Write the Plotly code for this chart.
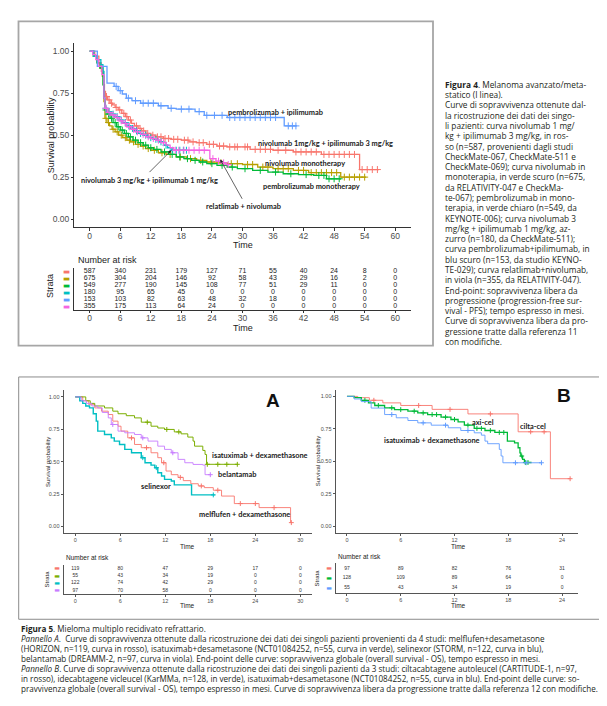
import plotly.graph_objects as go

W, H = 607, 706

# ---------------- Figure 4 data (PFS, months) ----------------
f4_colors = ["#F8766D", "#B79F00", "#00BA38", "#00BFC4", "#619CFF", "#F564E3"]

f4_red_t = [0, 1.0, 1.8, 2.3, 2.7, 2.9, 3.1, 3.5, 4.0, 4.5, 5.0, 5.6, 6.3, 7.0, 7.6, 8.2, 8.8, 9.5, 10.2, 11.0, 12.0, 13.0, 14.5, 16.0, 18.0, 19.5, 21.0, 23.0, 25.0, 27.0, 31.5, 36.0, 40.0, 45.5, 53.0, 56.8]
f4_red_s = [1.0, 0.97, 0.93, 0.88, 0.80, 0.76, 0.73, 0.71, 0.69, 0.68, 0.665, 0.65, 0.63, 0.61, 0.59, 0.57, 0.555, 0.54, 0.525, 0.51, 0.50, 0.49, 0.48, 0.475, 0.47, 0.46, 0.455, 0.445, 0.435, 0.43, 0.415, 0.41, 0.40, 0.385, 0.295, 0.295]
f4_red_c = [3.3, 3.8, 4.3, 5.2, 5.9, 6.7, 7.3, 8.0, 9.2, 9.9, 10.6, 11.4, 12.4, 13.3, 14.0, 14.8, 15.5, 16.5, 17.3, 18.6, 19.3, 20.3, 21.5, 22.3, 23.5, 24.3, 25.5, 26.3, 27.5, 28.5, 29.0, 30.5, 31.0, 32.5, 33.5, 34.5, 35.5, 37.0, 38.5, 40.5, 41.5, 42.5, 43.5, 44.5, 46.0, 47.0, 48.0, 49.0, 50.0, 51.0, 52.0, 53.5, 54.5, 55.5, 56.5]

f4_olive_t = [0, 0.8, 1.5, 2.0, 2.5, 2.8, 3.0, 3.4, 3.9, 4.4, 5.0, 5.7, 6.5, 7.3, 8.0, 9.0, 10.0, 11.0, 12.0, 13.5, 15.0, 17.0, 19.0, 21.0, 23.0, 25.0, 27.0, 30.0, 33.0, 36.0, 40.0, 43.0, 49.3, 54.3]
f4_olive_s = [1.0, 0.97, 0.93, 0.90, 0.85, 0.70, 0.60, 0.575, 0.555, 0.535, 0.52, 0.50, 0.485, 0.47, 0.46, 0.445, 0.435, 0.42, 0.41, 0.395, 0.385, 0.37, 0.36, 0.35, 0.34, 0.335, 0.33, 0.325, 0.31, 0.30, 0.29, 0.277, 0.25, 0.25]
f4_olive_c = [3.2, 3.7, 4.6, 5.4, 6.2, 7.0, 7.8, 8.6, 9.5, 10.5, 11.5, 12.7, 14.2, 15.8, 17.8, 19.8, 21.8, 23.8, 25.8, 27.8, 29.0, 31.0, 32.0, 34.0, 35.0, 37.0, 38.0, 39.0, 41.0, 42.0, 43.5, 44.5, 45.5, 46.5, 47.5, 48.5, 50.0, 51.0, 52.0, 53.0, 54.0]

f4_green_t = [0, 0.7, 1.4, 2.0, 2.6, 2.8, 3.0, 3.4, 4.0, 4.6, 5.3, 6.0, 6.8, 7.6, 8.5, 9.5, 10.5, 11.5, 12.5, 14.0, 15.5, 17.0, 18.5, 20.0, 21.5, 23.0, 25.0, 27.0, 29.0, 32.0, 35.0, 38.0, 41.0, 44.0, 46.5, 49.2]
f4_green_s = [1.0, 0.97, 0.93, 0.90, 0.80, 0.72, 0.65, 0.625, 0.60, 0.575, 0.55, 0.53, 0.51, 0.49, 0.47, 0.455, 0.44, 0.425, 0.415, 0.40, 0.385, 0.37, 0.36, 0.35, 0.34, 0.33, 0.32, 0.31, 0.30, 0.29, 0.28, 0.27, 0.265, 0.26, 0.24, 0.235]
f4_green_c = [3.2, 3.7, 4.3, 5.0, 5.6, 6.4, 7.2, 8.0, 9.0, 10.0, 11.0, 12.0, 13.2, 14.7, 16.2, 17.7, 19.2, 20.7, 22.2, 24.0, 26.0, 28.0, 30.5, 33.5, 36.5, 39.5, 42.5, 45.0, 46.0, 47.0, 48.0, 49.0]

f4_cyan_t = [0, 0.8, 1.5, 2.2, 2.6, 2.8, 3.0, 3.5, 4.2, 5.0, 5.8, 6.5, 7.3, 8.0, 8.8, 9.6, 10.5, 11.5, 12.5, 13.5, 14.5, 15.3, 16.0, 19.0]
f4_cyan_s = [1.0, 0.97, 0.95, 0.92, 0.88, 0.72, 0.66, 0.64, 0.625, 0.61, 0.59, 0.575, 0.555, 0.54, 0.525, 0.51, 0.50, 0.485, 0.475, 0.46, 0.44, 0.425, 0.41, 0.41]
f4_cyan_c = [3.2, 3.8, 4.6, 5.4, 6.2, 7.0, 7.7, 8.4, 9.2, 10.0, 11.0, 12.0, 13.0, 14.0, 15.0, 16.3, 17.0, 17.7, 18.4, 19.0]

f4_blue_t = [0, 1.5, 3.4, 4.8, 5.6, 6.4, 7.2, 8.3, 10.0, 13.5, 15.4, 17.0, 20.7, 22.5, 27.0, 38.2, 40.7]
f4_blue_s = [1.0, 0.91, 0.81, 0.79, 0.765, 0.745, 0.72, 0.705, 0.69, 0.675, 0.66, 0.655, 0.64, 0.618, 0.605, 0.555, 0.555]
f4_blue_c = [5.2, 6.0, 7.6, 9.0, 10.5, 11.5, 12.5, 14.0, 16.0, 18.0, 19.5, 21.5, 23.0, 24.5, 26.0, 27.5, 28.5, 29.5, 30.5, 31.5, 32.5, 33.5, 34.5, 35.5, 36.5, 39.0, 39.8, 40.5]

f4_pink_t = [0, 0.6, 1.2, 1.8, 2.4, 2.8, 3.0, 3.5, 4.2, 5.0, 5.8, 6.5, 7.3, 8.2, 9.0, 10.0, 11.0, 12.0, 13.0, 14.0, 15.0, 15.8, 16.5, 23.6, 24.8, 25.8, 26.8, 27.5]
f4_pink_s = [1.0, 0.98, 0.95, 0.91, 0.86, 0.72, 0.66, 0.635, 0.62, 0.605, 0.585, 0.57, 0.55, 0.535, 0.52, 0.505, 0.49, 0.48, 0.47, 0.455, 0.44, 0.425, 0.41, 0.36, 0.345, 0.335, 0.325, 0.325]
f4_pink_c = [3.2, 3.8, 4.6, 5.4, 6.2, 7.0, 7.8, 8.6, 9.4, 10.5, 11.5, 12.5, 13.5, 14.5, 16.8, 17.5, 18.5, 19.5, 20.5, 21.5, 22.5, 24.2, 25.3, 26.3, 27.2]

f4_risk_times = [0, 6, 12, 18, 24, 30, 36, 42, 48, 54, 60]
f4_risk_red = [587, 340, 231, 179, 127, 71, 55, 40, 24, 8, 0]
f4_risk_olive = [675, 304, 204, 146, 92, 58, 43, 29, 16, 2, 0]
f4_risk_green = [549, 277, 190, 145, 108, 77, 51, 29, 11, 0, 0]
f4_risk_cyan = [180, 95, 65, 45, 0, 0, 0, 0, 0, 0, 0]
f4_risk_blue = [153, 103, 82, 63, 48, 32, 18, 0, 0, 0, 0]
f4_risk_pink = [355, 175, 113, 64, 24, 0, 0, 0, 0, 0, 0]

# ---------------- Figure 5A data (OS, months) ----------------
a_colors = ["#F8766D", "#7CAE00", "#00BFC4", "#C77CFF"]
a_red_t = [0, 1.0, 1.8, 2.6, 3.5, 4.4, 5.0, 5.7, 6.1, 7.0, 7.9, 8.8, 10.1, 11.0, 11.5, 12.1, 12.8, 13.7, 14.4, 15.4, 16.4, 17.2, 18.4, 19.5, 21.2, 24.5, 28.7, 28.9]
a_red_s = [1.0, 0.97, 0.94, 0.915, 0.89, 0.864, 0.813, 0.774, 0.736, 0.684, 0.633, 0.608, 0.569, 0.531, 0.492, 0.428, 0.40, 0.379, 0.354, 0.33, 0.313, 0.30, 0.28, 0.235, 0.177, 0.146, 0.03, 0.03]
a_red_c = [7.5, 9.5, 11.8, 14.0, 16.8, 19.0, 22.0, 24.0, 26.5, 28.8]
a_green_t = [0, 1.4, 2.0, 2.6, 3.9, 5.0, 5.7, 6.8, 7.9, 8.8, 10.1, 11.0, 11.9, 13.2, 14.1, 15.0, 15.7, 15.9, 17.0, 17.3, 17.5, 21.7]
a_green_s = [1.0, 0.97, 0.95, 0.93, 0.915, 0.89, 0.87, 0.855, 0.838, 0.805, 0.774, 0.76, 0.749, 0.73, 0.715, 0.69, 0.659, 0.62, 0.587, 0.556, 0.48, 0.48]
a_green_c = [9.6, 12.2, 13.8, 17.6, 19.0, 20.2, 21.6]
a_cyan_t = [0, 0.6, 1.0, 1.4, 1.9, 2.4, 2.8, 3.0, 3.9, 4.8, 5.2, 5.9, 6.6, 7.5, 8.8, 9.3, 10.1, 10.6, 11.0, 11.5, 11.9, 12.8, 13.2, 15.5, 18.6]
a_cyan_s = [1.0, 0.97, 0.95, 0.93, 0.915, 0.87, 0.813, 0.736, 0.71, 0.684, 0.659, 0.633, 0.595, 0.569, 0.531, 0.492, 0.474, 0.454, 0.415, 0.39, 0.364, 0.351, 0.321, 0.244, 0.244]
a_cyan_c = [9.0, 10.8, 18.4]
a_purple_t = [0, 0.8, 1.5, 2.2, 3.0, 3.6, 4.4, 4.8, 5.7, 6.6, 7.9, 8.8, 9.7, 11.0, 11.9, 12.8, 13.7, 14.6, 15.7, 17.0, 17.3, 18.1]
a_purple_s = [1.0, 0.97, 0.95, 0.93, 0.915, 0.88, 0.838, 0.787, 0.736, 0.723, 0.71, 0.684, 0.659, 0.62, 0.595, 0.569, 0.518, 0.492, 0.479, 0.474, 0.40, 0.40]
a_purple_c = [5.0, 9.0, 13.0, 18.0]

a_risk_times = [0, 6, 12, 18, 24, 30]
a_risk_red = [119, 80, 47, 29, 17, 0]
a_risk_green = [55, 43, 34, 19, 0, 0]
a_risk_cyan = [122, 74, 42, 29, 0, 0]
a_risk_purple = [97, 70, 58, 0, 0, 0]

# ---------------- Figure 5B data (OS, months) ----------------
b_colors = ["#F8766D", "#00BA38", "#619CFF"]
b_red_t = [0, 1.2, 2.5, 4.0, 6.0, 9.5, 13.5, 19.1, 22.7, 24.9]
b_red_s = [1.0, 0.99, 0.97, 0.95, 0.93, 0.90, 0.865, 0.727, 0.365, 0.365]
b_red_c = [3.0, 8.0, 11.5, 16.0, 20.5, 22.0, 24.9]
b_green_t = [0, 0.8, 1.6, 2.4, 3.1, 4.2, 5.3, 6.8, 7.9, 9.0, 10.5, 11.6, 12.4, 13.1, 14.2, 15.4, 16.5, 17.9, 18.7, 19.1, 19.3, 19.4, 19.6, 19.8, 20.6]
b_green_s = [1.0, 0.99, 0.97, 0.95, 0.93, 0.912, 0.898, 0.886, 0.873, 0.86, 0.84, 0.822, 0.804, 0.778, 0.753, 0.737, 0.722, 0.655, 0.642, 0.604, 0.565, 0.54, 0.514, 0.49, 0.49]
b_green_c = [2.0, 3.5, 5.0, 6.0, 7.5, 8.5, 9.5, 10.0, 11.0, 12.0, 13.5, 14.5, 15.0, 16.0, 17.0, 17.5, 19.5, 19.9, 20.2]
b_blue_t = [0, 0.8, 1.6, 2.7, 4.2, 5.5, 6.8, 7.9, 9.4, 11.3, 12.7, 14.2, 15.0, 15.4, 15.7, 17.0, 17.2, 17.4, 21.7]
b_blue_s = [1.0, 0.98, 0.96, 0.91, 0.86, 0.835, 0.814, 0.796, 0.778, 0.758, 0.737, 0.719, 0.701, 0.655, 0.635, 0.591, 0.54, 0.488, 0.488]
b_blue_c = [5.0, 8.5, 11.0, 13.5, 18.8, 20.0, 21.7]

b_risk_times = [0, 6, 12, 18, 24]
b_risk_red = [97, 89, 82, 76, 31]
b_risk_green = [128, 109, 89, 64, 0]
b_risk_blue = [55, 43, 34, 19, 0]

# ---------------- Captions ----------------
f4_caption = [
    "<b>Figura 4</b>. Melanoma avanzato/meta-",
    "statico (I linea).",
    "Curve di sopravvivenza ottenute dal-",
    "la ricostruzione dei dati dei singo-",
    "li pazienti: curva nivolumab 1 mg/",
    "kg + ipilimumab 3 mg/kg, in ros-",
    "so (n=587, provenienti dagli studi",
    "CheckMate-067, CheckMate-511 e",
    "CheckMate-069); curva nivolumab in",
    "monoterapia, in verde scuro (n=675,",
    "da RELATIVITY-047 e CheckMa-",
    "te-067); pembrolizumab in mono-",
    "terapia, in verde chiaro (n=549, da",
    "KEYNOTE-006); curva nivolumab 3",
    "mg/kg + ipilimumab 1 mg/kg, az-",
    "zurro (n=180, da CheckMate-511);",
    "curva pembrolizumab+ipilimumab, in",
    "blu scuro (n=153, da studio KEYNO-",
    "TE-029); curva relatlimab+nivolumab,",
    "in viola (n=355, da RELATIVITY-047).",
    "End-point: sopravvivenza libera da",
    "progressione (progression-free sur-",
    "vival - PFS); tempo espresso in mesi.",
    "Curve di sopravvivenza libera da pro-",
    "gressione tratte dalla referenza 11",
    "con modifiche.",
]
f5_caption = [
    "<b>Figura 5</b>. Mieloma multiplo recidivato refrattario.",
    "<i>Pannello A</i>.  Curve di sopravvivenza ottenute dalla ricostruzione dei dati dei singoli pazienti provenienti da 4 studi: melflufen+desametasone",
    "(HORIZON, n=119, curva in rosso), isatuximab+desametasone (NCT01084252, n=55, curva in verde), selinexor (STORM, n=122, curva in blu),",
    "belantamab (DREAMM-2, n=97, curva in viola). End-point delle curve: sopravvivenza globale (overall survival - OS), tempo espresso in mesi.",
    "<i>Pannello B</i>. Curve di sopravvivenza ottenute dalla ricostruzione dei dati dei singoli pazienti da 3 studi: ciltacabtagene autoleucel (CARTITUDE-1, n=97,",
    "in rosso), idecabtagene vicleucel (KarMMa, n=128, in verde), isatuximab+desametasone (NCT01084252, n=55, curva in blu). End-point delle curve: so-",
    "pravvivenza globale (overall survival - OS), tempo espresso in mesi. Curve di sopravvivenza libera da progressione tratte dalla referenza 12 con modifiche.",
]


def fx(p):
    return p / W


def fy(p):
    return 1 - p / H


def step_at(ts, ss, t):
    val = ss[0]
    for ti, si in zip(ts, ss):
        if ti <= t:
            val = si
    return val


fig = go.Figure()


def add_km(ts, ss, cs, color, xa, ya, lw, msize):
    fig.add_trace(go.Scatter(x=ts, y=ss, mode="lines", line=dict(color=color, width=lw, shape="hv"),
                             xaxis=xa, yaxis=ya, showlegend=False, hoverinfo="skip"))
    fig.add_trace(go.Scatter(x=cs, y=[step_at(ts, ss, c) for c in cs], mode="markers",
                             marker=dict(symbol="cross-thin", size=msize, line=dict(color=color, width=1)),
                             xaxis=xa, yaxis=ya, showlegend=False, hoverinfo="skip"))


def add_risk(times, rows, xa, ya, size, color):
    for i, row in enumerate(rows):
        fig.add_trace(go.Scatter(x=times, y=[i] * len(times), mode="text", text=[str(v) for v in row],
                                 textfont=dict(size=size, color=color, family="Liberation Sans Narrow, Liberation Sans, Arial"),
                                 xaxis=xa, yaxis=ya, showlegend=False, hoverinfo="skip", cliponaxis=False))


# Figure 4
f4_curves = [(f4_red_t, f4_red_s, f4_red_c), (f4_olive_t, f4_olive_s, f4_olive_c), (f4_green_t, f4_green_s, f4_green_c),
             (f4_cyan_t, f4_cyan_s, f4_cyan_c), (f4_blue_t, f4_blue_s, f4_blue_c), (f4_pink_t, f4_pink_s, f4_pink_c)]
for (ts, ss, cs), col in zip(f4_curves, f4_colors):
    add_km(ts, ss, cs, col, "x", "y", 1.3, 5)
add_risk(f4_risk_times, [f4_risk_red, f4_risk_olive, f4_risk_green, f4_risk_cyan, f4_risk_blue, f4_risk_pink],
         "x2", "y2", 7, "#222222")

# Figure 5A
a_curves = [(a_red_t, a_red_s, a_red_c), (a_green_t, a_green_s, a_green_c), (a_cyan_t, a_cyan_s, a_cyan_c),
            (a_purple_t, a_purple_s, a_purple_c)]
a_widths = [0.9, 1.0, 1.4, 0.9]
for (ts, ss, cs), col, lw in zip(a_curves, a_colors, a_widths):
    add_km(ts, ss, cs, col, "x3", "y3", lw, 3.5)
add_risk(a_risk_times, [a_risk_red, a_risk_green, a_risk_cyan, a_risk_purple], "x4", "y4", 5, "#333333")

# Figure 5B
b_curves = [(b_red_t, b_red_s, b_red_c), (b_green_t, b_green_s, b_green_c), (b_blue_t, b_blue_s, b_blue_c)]
b_widths = [0.9, 1.3, 0.9]
for (ts, ss, cs), col, lw in zip(b_curves, b_colors, b_widths):
    add_km(ts, ss, cs, col, "x5", "y5", lw, 3.5)
add_risk(b_risk_times, [b_risk_red, b_risk_green, b_risk_blue], "x6", "y6", 5, "#333333")

AXC = "#333333"
TICKC = "#4D4D4D"


def xax(dom, rng, tv, anchor, fs, lc=AXC, standoff=-2):
    return dict(domain=[fx(dom[0]), fx(dom[1])], range=rng, tickvals=tv, ticktext=[str(v) for v in tv],
                anchor=anchor, showline=True, linecolor=lc, linewidth=0.8, ticks="outside", ticklen=2.5,
                tickwidth=0.8, tickcolor=lc, ticklabelstandoff=standoff,
                tickfont=dict(size=fs, color=TICKC, family="Liberation Sans, Arial"),
                showgrid=False, zeroline=False, fixedrange=True)


def yax_surv(dom, anchor, fs, lc=AXC):
    tv = [0, 0.25, 0.5, 0.75, 1.0]
    return dict(domain=[fy(dom[1]), fy(dom[0])], range=[-0.05, 1.05], tickvals=tv,
                ticktext=["%.2f" % v for v in tv], anchor=anchor, showline=True, linecolor=lc, linewidth=0.8,
                ticks="outside", ticklen=2.5, tickwidth=0.8, tickcolor=lc,
                tickfont=dict(size=fs, color=TICKC, family="Liberation Sans, Arial"),
                showgrid=False, zeroline=False, fixedrange=True)


def yax_table(dom, anchor, colors, fs, lc=AXC):
    n = len(colors)
    return dict(domain=[fy(dom[1]), fy(dom[0])], range=[n - 0.5, -0.5], tickvals=list(range(n)),
                ticktext=["<span style='color:%s'>▬</span>" % c for c in colors], anchor=anchor,
                showline=True, linecolor=lc, linewidth=0.8, ticks="", ticklabelstandoff=2,
                tickfont=dict(size=fs, family="DejaVu Sans"), showgrid=False, zeroline=False, fixedrange=True)


layout = dict(
    width=W, height=H, margin=dict(l=0, r=0, t=0, b=0), paper_bgcolor="white", plot_bgcolor="white",
    showlegend=False,
    xaxis=xax((66.4, 402.5), [-3, 63], f4_risk_times, "y", 8.5),
    yaxis=yax_surv((33.9, 219.1), "x", 8.5),
    xaxis2=xax((66.4, 402.5), [-3, 63], f4_risk_times, "y2", 8.5),
    yaxis2=yax_table((259.8, 301.5), "x2", f4_colors, 7.5),
    xaxis3=xax((56, 303.6), [-1.5, 31.5], a_risk_times, "y3", 5.5, "#555555", -1),
    yaxis3=yax_surv((382.5, 525.5), "x3", 5.5, "#555555"),
    xaxis4=xax((56, 303.6), [-1.5, 31.5], a_risk_times, "y4", 5.5, "#555555", -1),
    yaxis4=yax_table((557.3, 586.7), "x4", a_colors, 6, "#555555"),
    xaxis5=xax((328, 569.5), [-1.225, 25.725], b_risk_times, "y5", 5.5, "#555555", -1),
    yaxis5=yax_surv((382, 525), "x5", 5.5, "#555555"),
    xaxis6=xax((328, 569.5), [-1.225, 25.725], b_risk_times, "y6", 5.5, "#555555", -1),
    yaxis6=yax_table((556, 585.6), "x6", b_colors, 6, "#555555"),
)
fig.update_layout(**layout)

ann = []


def text(px, py, s, size, color="#1a1a1a", anchor="center", angle=0, family="Liberation Sans, Arial", yanchor="middle"):
    ann.append(dict(x=fx(px), y=fy(py), xref="paper", yref="paper", text=s, showarrow=False,
                    xanchor=anchor, yanchor=yanchor, textangle=angle,
                    font=dict(size=size, color=color, family=family)))


LBL = "Lato, Open Sans, sans-serif"
LS = 7.4
# Figure 4 texts
text(43, 126.5, "Survival probability", 9, "#222", angle=-90)
text(235, 236.5, "Time", 9, "#222")
text(67.7, 252, "Number at risk", 9, "#222", anchor="left")
text(42.7, 278, "Strata", 9, "#222", angle=-90)
text(235, 319.5, "Time", 9, "#222")
text(217.7, 103.3, "<b>pembrolizumab + ipilimumab</b>", LS, anchor="left", family=LBL)
text(248, 135, "<b>nivolumab 1mg/kg + ipilimumab 3 mg/kg</b>", LS, anchor="left", family=LBL)
text(255, 155, "<b>nivolumab monotherapy</b>", LS, anchor="left", family=LBL)
text(253, 178.3, "<b>pembrolizumab monotherapy</b>", LS, anchor="left", family=LBL)
text(71, 171.7, "<b>nivolumab 3 mg/kg + ipilimumab 1 mg/kg</b>", LS, anchor="left", family=LBL)
text(196, 197.7, "<b>relatlimab + nivolumab</b>", LS, anchor="left", family=LBL)

# arrows
for hx, hy, tx, ty in [(163.3, 141.7, 140, 165), (212.3, 151, 235, 191.7)]:
    ann.append(dict(x=fx(hx), y=fy(hy), xref="paper", yref="paper", ax=tx - hx, ay=ty - hy, text="",
                    showarrow=True, arrowhead=2, arrowsize=0.9, arrowwidth=0.7, arrowcolor="#222"))

# Figure 5A texts
text(265, 393, "<b>A</b>", 19, "#111")
text(39.3, 454, "Survival probability", 6, "#222", angle=-90)
text(179.3, 539.5, "Time", 6.5, "#222")
text(56, 550, "Number at risk", 6.5, "#222", anchor="left")
text(39, 572, "Strata", 6, "#222", angle=-90)
text(179.3, 598.5, "Time", 6.5, "#222")
text(201.7, 447.7, "<b>isatuximab + dexamethasone</b>", LS, anchor="left", family=LBL)
text(208.3, 466.7, "<b>belantamab</b>", LS, anchor="left", family=LBL)
text(130.7, 479, "<b>selinexor</b>", LS, anchor="left", family=LBL)
text(189, 506.7, "<b>melflufen + dexamethasone</b>", LS, anchor="left", family=LBL)

# Figure 5B texts
text(556, 388, "<b>B</b>", 19, "#111")
text(310, 453.5, "Survival probability", 6, "#222", angle=-90)
text(450.7, 539, "Time", 6.5, "#222")
text(328, 549, "Number at risk", 6.5, "#222", anchor="left")
text(309, 571, "Strata", 6, "#222", angle=-90)
text(450.7, 598.5, "Time", 6.5, "#222")
text(462.3, 415, "<b>axi-cel</b>", LS, anchor="left", family=LBL)
text(510, 418.3, "<b>cilta-cel</b>", LS, anchor="left", family=LBL)
text(374, 432.3, "<b>isatuximab + dexamethasone</b>", LS, anchor="left", family=LBL)

# Captions
CAP = "Open Sans, Noto Sans, sans-serif"
for i, line in enumerate(f4_caption):
    text(435.5, 75.5 + i * 10.32, line, 8.3, "#231F20", anchor="left", family=CAP)
for i, line in enumerate(f5_caption):
    text(10.5, 621 + i * 10.0, line, 8.1, "#231F20", anchor="left", family=CAP)

fig.update_layout(annotations=ann)

# frames around the two figures
fig.update_layout(shapes=[
    dict(type="rect", xref="paper", yref="paper", x0=fx(10.5), x1=fx(425), y0=fy(337.5), y1=fy(12.5),
         line=dict(color="#A6A6A6", width=1.8), layer="below"),
    dict(type="rect", xref="paper", yref="paper", x0=fx(10.7), x1=fx(596), y0=fy(612), y1=fy(369),
         line=dict(color="#8C8C8C", width=1), layer="below"),
])

fig.write_html("out.html")
